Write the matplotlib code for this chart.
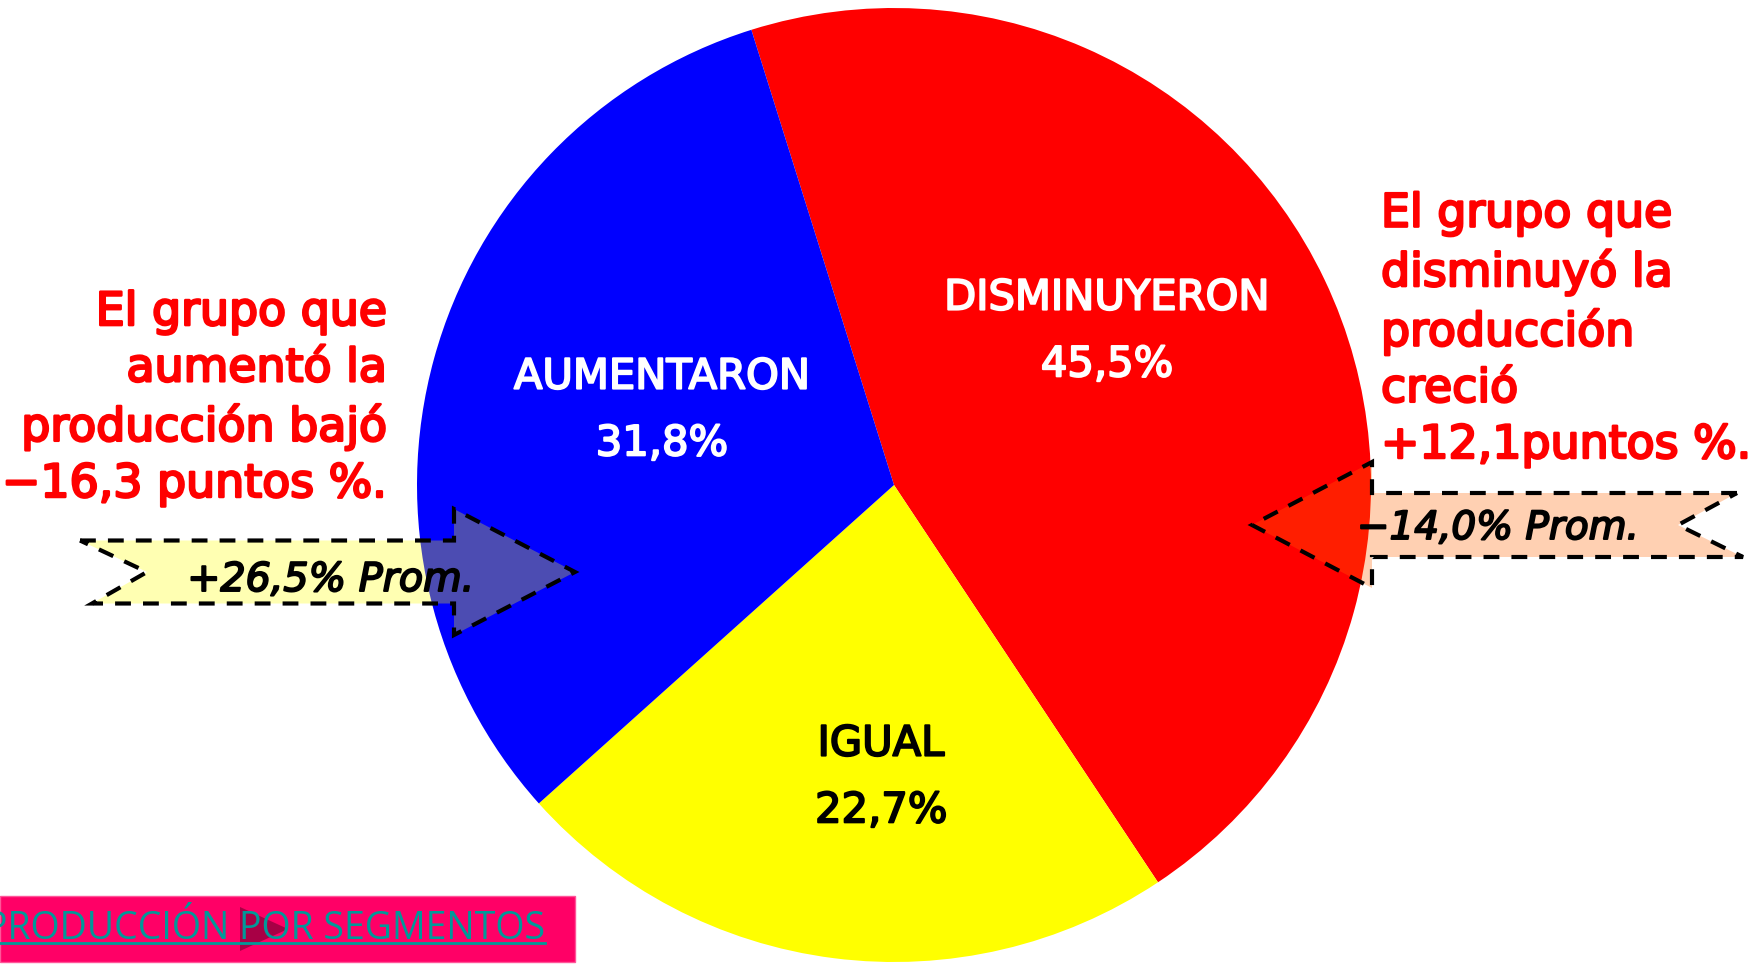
import matplotlib.pyplot as plt
import matplotlib.patheffects as pe
from matplotlib.patches import Polygon, Rectangle

# datos del grafico
segmentos = ["DISMINUYERON", "IGUAL", "AUMENTARON"]
porcentajes = [45.5, 22.7, 31.8]
colores = ["#FF0000", "#FFFF00", "#0000FF"]
color_etiqueta = ["white", "black", "white"]

texto_izq = "El grupo que\naumentó la\nproducción bajó\n−16,3 puntos %."
texto_der = "El grupo que\ndisminuyó la\nproducción\ncreció\n+12,1puntos %."
prom_aumentaron = "+26,5% Prom."
prom_disminuyeron = "−14,0% Prom."
titulo_boton = "PRODUCCIÓN POR SEGMENTOS"

W, H = 1759, 964


def fmt(v):
    return f"{v:.1f}".replace(".", ",") + "%"


def grueso(color, lw=1.8):
    # engrosa el trazo de la letra sin cambiar el ancho
    return [pe.withStroke(linewidth=lw, foreground=color)]


def flecha(cola_sup, cola_inf, x_muesca, x_cuello, x_punta, yc, sh, hh):
    # flecha con cola en V, coordenadas en pixeles (y hacia abajo)
    pts = [(cola_sup, yc - sh), (x_cuello, yc - sh), (x_cuello, yc - hh), (x_punta, yc),
           (x_cuello, yc + hh), (x_cuello, yc + sh), (cola_inf, yc + sh), (x_muesca, yc)]
    return [(x, H - y) for x, y in pts]


def generate():
    fig = plt.figure(figsize=(W / 100, H / 100), dpi=100)
    ax = fig.add_axes([0, 0, 1, 1])

    ax.pie(porcentajes, colors=colores, startangle=107.4, counterclock=False,
           center=(894, H - 485), radius=477, wedgeprops=dict(linewidth=0))

    pos_etiquetas = [(1107, 331), (881, 777), (662, 410)]
    for nombre, v, c, (x, y) in zip(segmentos, porcentajes, color_etiqueta, pos_etiquetas):
        ax.text(x, H - y, f"{nombre}\n{fmt(v)}", ha="center", va="center",
                multialignment="center", fontsize=30, color=c, linespacing=1.75,
                path_effects=grueso(c, 1.4), zorder=5)

    # flechas de promedio
    trazo = dict(edgecolor="black", linewidth=3, linestyle=(0, (3.8, 2.9)), zorder=3)
    ax.add_patch(Polygon(flecha(80, 92, 147, 454, 575, 572, 31.5, 63), closed=True,
                         facecolor=(1, 1, 0, 0.3), **trazo))
    ax.add_patch(Polygon(flecha(1737, 1743, 1678, 1372, 1252, 525, 32, 63), closed=True,
                         facecolor=(1, 0.4, 0, 0.3), **trazo))
    ax.text(331, H - 591, prom_aumentaron, ha="center", va="baseline",
            fontsize=28.5, style="italic", color="black",
            path_effects=grueso("black", 1.4), zorder=6)
    ax.text(1498, H - 539, prom_disminuyeron, ha="center", va="baseline",
            fontsize=28, style="italic", color="black",
            path_effects=grueso("black", 1.4), zorder=6)

    # comentarios en rojo (va=baseline ancla la ultima linea)
    ax.text(387, H - 497, texto_izq, ha="right", va="baseline", multialignment="right",
            fontsize=33, color="#FF0000", linespacing=1.32,
            path_effects=grueso("#FF0000"), zorder=6)
    ax.text(1381, H - 458, texto_der, ha="left", va="baseline", multialignment="left",
            fontsize=33, color="#FF0000", linespacing=1.32,
            path_effects=grueso("#FF0000"), zorder=6)

    # boton inferior
    ax.add_patch(Rectangle((0, H - 962), 575, 66, facecolor="#FF0066",
                           edgecolor="#FF5599", linewidth=1, zorder=3))
    ax.add_patch(Polygon([(240, H - 907), (288, H - 929), (240, H - 951)], closed=True,
                         facecolor="#990040", edgecolor="none", alpha=0.85, zorder=4))
    ax.text(545, H - 939, titulo_boton, ha="right", va="baseline", fontsize=27,
            family="Open Sans", color="#009999", zorder=5)
    ax.plot([0, 545], [H - 942.5, H - 942.5], color="#009999", linewidth=2, zorder=5)

    ax.set_xlim(0, W)
    ax.set_ylim(0, H)
    ax.set_aspect("equal")
    ax.axis("off")
    return fig


if __name__ == "__main__":
    fig = generate()
    fig.savefig("out.png", dpi=100)
    plt.close(fig)
